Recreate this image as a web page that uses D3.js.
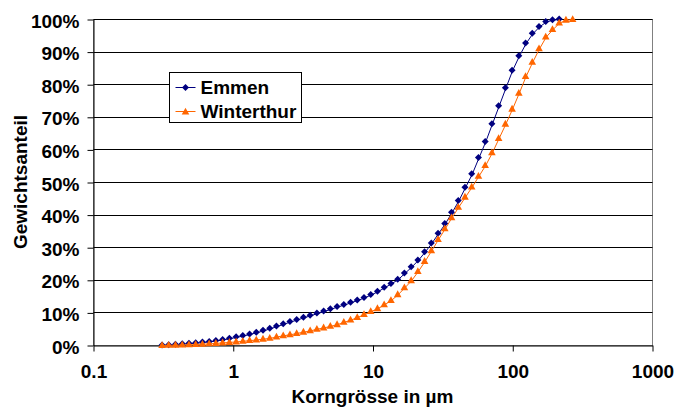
<!DOCTYPE html>
<html>
<head>
<meta charset="utf-8">
<script src="https://cdn.jsdelivr.net/npm/d3@7"></script>
<style>
  body { margin: 0; background: #fff; }
  svg text { font-family: 'Liberation Sans', Arial, sans-serif; font-weight: bold; }
</style>
</head>
<body>
<div id="chart"></div>
<script>
const width = 688
const height = 407
const margin = { left: 93, right: 36, top: 19, bottom: 62 }
const fontSize = 19

// particle size classes in µm (shared by both samples)
const sizes = [
  0.312, 0.348, 0.389, 0.435, 0.486, 0.543, 0.607, 0.678, 0.757, 0.846,
  0.946, 1.057, 1.18, 1.319, 1.474, 1.646, 1.84, 2.055, 2.297, 2.566,
  2.867, 3.204, 3.579, 3.999, 4.468, 4.993, 5.578, 6.232, 6.964, 7.78,
  8.693, 9.712, 10.85, 12.12, 13.55, 15.14, 16.91, 18.9, 21.11, 23.59,
  26.36, 29.44, 32.9, 36.76, 41.07, 45.88, 51.27, 57.28, 64.0, 71.5,
  79.89, 89.26, 99.73, 111.4, 124.5, 139.1, 155.4, 173.6, 194.0, 216.7,
  242.2, 270.6
]
// cumulative weight share in %
const emmen = [
  0.0, 0.1, 0.25, 0.4, 0.55, 0.7, 0.9, 1.1, 1.4, 1.7,
  2.1, 2.5, 2.9, 3.4, 3.9, 4.5, 5.1, 5.8, 6.5, 7.2,
  7.8, 8.5, 9.1, 9.8, 10.4, 11.1, 11.8, 12.4, 13.1, 13.8,
  14.6, 15.5, 16.5, 17.7, 18.9, 20.2, 22.1, 24.0, 26.1, 28.6,
  31.3, 34.3, 37.3, 40.7, 44.3, 48.4, 52.5, 57.5, 62.4, 67.9,
  73.4, 78.9, 84.3, 88.7, 92.6, 95.6, 97.7, 99.2, 99.8, 100
]
const winterthur = [
  0.0, 0.05, 0.1, 0.15, 0.2, 0.3, 0.4, 0.5, 0.65, 0.8,
  0.95, 1.1, 1.3, 1.5, 1.7, 1.95, 2.2, 2.6, 3.0, 3.3,
  3.7, 4.1, 4.5, 5.0, 5.4, 5.9, 6.4, 7.1, 7.8, 8.6,
  9.5, 10.4, 11.3, 12.5, 13.8, 15.6, 17.7, 19.9, 22.7, 25.8,
  29.1, 32.5, 35.8, 39.2, 42.4, 45.5, 48.6, 51.9, 55.2, 59.1,
  63.5, 67.9, 72.5, 77.4, 82.5, 86.9, 91.0, 94.6, 96.9, 98.9,
  99.8, 100
]
const seriesNames = ['Emmen', 'Winterthur']
const xTicks = [0.1, 1, 10, 100, 1000]
const yTicks = [0, 0.1, 0.2, 0.3, 0.4, 0.5, 0.6, 0.7, 0.8, 0.9, 1]

const colors = { Emmen: '#000080', Winterthur: '#FF6600' }

const x_scale = d3.scaleLog()
  .domain([0.1, 1000])
  .range([margin.left, width - margin.right])
const y_scale = d3.scaleLinear()
  .domain([0, 1])
  .range([height - margin.bottom, margin.top])

const svg = d3.select('#chart')
  .append('svg')
    .attr('width', width)
    .attr('height', height)
const g = svg.append('g')
  .attr('transform', 'translate(0.5,0.5)')

// plot area border
g.append('rect')
  .attr('x', x_scale.range()[0])
  .attr('y', y_scale.range()[1])
  .attr('width', x_scale.range()[1] - x_scale.range()[0])
  .attr('height', y_scale.range()[0] - y_scale.range()[1])
  .attr('fill', 'none')
  .attr('stroke', '#808080')

// gridlines
g.append('g')
  .selectAll('line')
  .data(yTicks.filter(d => d > 0))
  .enter().append('line')
    .attr('x1', x_scale.range()[0])
    .attr('x2', x_scale.range()[1])
    .attr('y1', d => Math.round(y_scale(d)))
    .attr('y2', d => Math.round(y_scale(d)))
    .attr('stroke', '#000')

// axes
g.append('g')
  .attr('transform', `translate(0,${y_scale.range()[0]})`)
  .call(d3.axisBottom(x_scale).tickValues(xTicks).tickFormat(d => String(d))
    .tickSize(6).tickSizeOuter(0).tickPadding(13))
  .call(a => a.selectAll('path, line').attr('stroke', '#000'))
  .call(a => a.selectAll('text').attr('font-size', fontSize).attr('fill', '#000'))

g.append('g')
  .attr('transform', `translate(${x_scale.range()[0]},0)`)
  .call(d3.axisLeft(y_scale).tickValues(yTicks).tickFormat(d3.format('.0%'))
    .tickSize(6).tickSizeOuter(0).tickPadding(8))
  .call(a => a.selectAll('path, line').attr('stroke', '#000'))
  .call(a => a.selectAll('text').attr('font-size', fontSize).attr('fill', '#000').attr('dy', '0.4em'))

// axis titles
svg.append('text')
  .attr('x', (x_scale.range()[0] + x_scale.range()[1]) / 2)
  .attr('y', 403)
  .attr('text-anchor', 'middle')
  .attr('font-size', fontSize)
  .text('Korngrösse in µm')
svg.append('text')
  .attr('transform', `translate(27,${(y_scale.range()[0] + y_scale.range()[1]) / 2}) rotate(-90)`)
  .attr('text-anchor', 'middle')
  .attr('font-size', fontSize)
  .text('Gewichtsanteil')

const series = [
  { name: 'Emmen', values: emmen },
  { name: 'Winterthur', values: winterthur }
].map(s => ({ name: s.name, points: s.values.map((v, i) => ({ x: sizes[i], y: v / 100 })) }))

const line = d3.line()
  .x(d => x_scale(d.x))
  .y(d => y_scale(d.y))

// Excel-style markers
const marker = name => name === 'Emmen'
  ? 'M0,-3.5L3.5,0L0,3.5L-3.5,0Z'
  : 'M0,-3.8L3.8,3L-3.8,3Z'

const lines = g.append('g')
  .selectAll('g')
  .data(series)
  .enter().append('g')
lines.append('path')
  .attr('d', d => line(d.points))
  .attr('fill', 'none')
  .attr('stroke', d => colors[d.name])
  .attr('stroke-width', 1)
lines.each(function (s) {
  d3.select(this).selectAll('.pt')
    .data(s.points)
    .enter().append('path')
      .attr('class', 'pt')
      .attr('transform', d => `translate(${x_scale(d.x) - 0.5},${y_scale(d.y) - 0.5})`)
      .attr('d', marker(s.name))
      .attr('fill', colors[s.name])
})

// legend
const legend = svg.append('g')
  .attr('transform', 'translate(169.5,72.5)')
legend.append('rect')
  .attr('width', 132)
  .attr('height', 50)
  .attr('fill', '#fff')
  .attr('stroke', '#000')
const items = legend.selectAll('.item')
  .data(seriesNames)
  .enter().append('g')
    .attr('class', 'item')
    .attr('transform', (d, i) => `translate(0,${15 + i * 24})`)
items.append('line')
  .attr('x1', 6).attr('x2', 26)
  .attr('stroke', d => colors[d])
items.append('path')
  .attr('transform', 'translate(16,0)')
  .attr('d', d => marker(d))
  .attr('fill', d => colors[d])
items.append('text')
  .attr('x', 31)
  .attr('dy', '0.36em')
  .attr('font-size', fontSize)
  .text(d => d)
</script>
</body>
</html>
